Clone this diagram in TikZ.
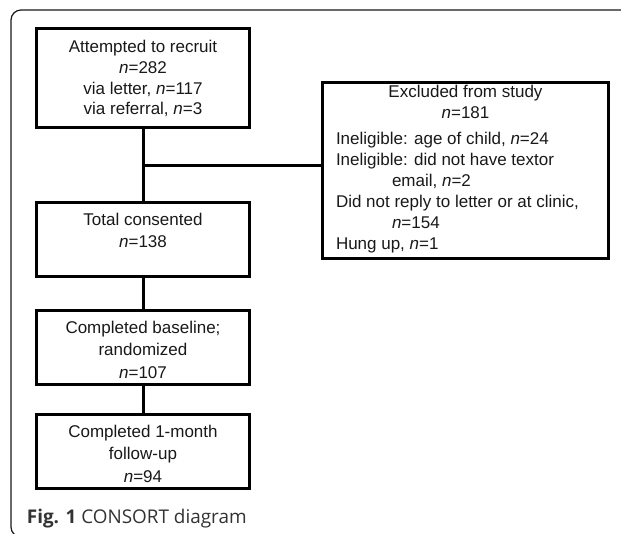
\documentclass[tikz,border=0pt]{standalone}
\usepackage{fontspec}
\setmainfont{Liberation Sans}
\newfontfamily\capfont{Open Sans}
\begin{document}
\begin{tikzpicture}[x=1pt,y=-1pt,
  box/.style={draw=black, line width=3pt, inner sep=0pt, text=black!90},
  conn/.style={draw=black, line width=3pt},
  frame/.style={draw=black!90, line width=1.2pt, rounded corners=10pt}]
\useasboundingbox (0,0) rectangle (621,534);
\fill[white] (0,0) rectangle (621,534);
\draw[frame] (660,10) -- (11,10) -- (11,537) -- (660,537);

\node[box, font=\fontsize{17}{20.9}\selectfont] (b1) at (143,78.25)
  {\parbox[c][98.5pt][t]{213pt}{\centering\rule{0pt}{23.3pt}Attempted to recruit\\\textit{n}=282\\via letter, \textit{n}=117\\via referral, \textit{n}=3}};
\node[box, font=\fontsize{17}{22}\selectfont] (b2) at (143,239.75)
  {\parbox[c][74.5pt][t]{213pt}{\centering\rule{0pt}{23.5pt}Total consented\\\textit{n}=138}};
\node[box, font=\fontsize{17}{22}\selectfont] (b3) at (143,347.65)
  {\parbox[c][73.3pt][t]{213pt}{\centering\rule{0pt}{23pt}Completed baseline;\\randomized\\\textit{n}=107}};
\node[box, font=\fontsize{17}{22.5}\selectfont] (b4) at (143,451.3)
  {\parbox[c][74pt][t]{213pt}{\centering\rule{0pt}{22.7pt}Completed 1-month\\follow-up\\\textit{n}=94}};
\node[box, font=\fontsize{17}{21}\selectfont] (ex) at (465.5,170.75)
  {\parbox[c][176.5pt][t]{286.4pt}{\centering\rule{0pt}{14.8pt}Excluded from study\\\textit{n}=181\par\vspace{5pt}\raggedright\leftskip=13.7pt Ineligible: age of child, \textit{n}=24\\Ineligible: did not have textor\\\hspace*{56pt}email, \textit{n}=2\\Did not reply to letter or at clinic,\\\hspace*{56pt}\textit{n}=154\\Hung up, \textit{n}=1\par}};

\coordinate (br) at (143,166);
\draw[conn] (b1.south) -- (b2.north);
\draw[conn] (br) -- (ex.west |- br);
\draw[conn] (b2.south) -- (b3.north);
\draw[conn] (b3.south) -- (b4.north);

\node[anchor=base west, inner sep=0pt, text=black!80, font=\capfont\fontsize{18.9}{22}\selectfont] (cap) at (26.7,523.3) {\textbf{Fig. 1} CONSORT diagram};
\end{tikzpicture}
\end{document}
